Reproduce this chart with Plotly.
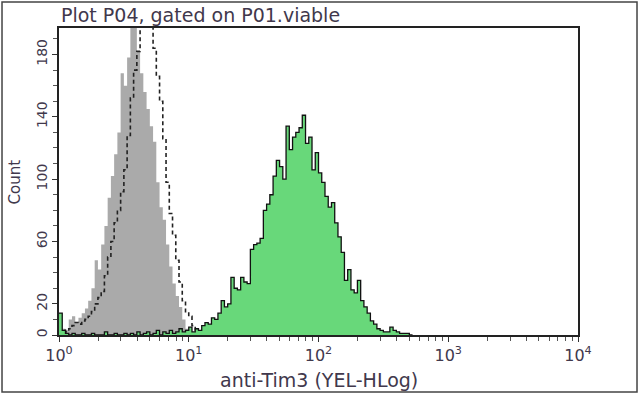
import numpy as np
import plotly.graph_objects as go

# ---- data (histogram counts per log10 bin) ----
BIN_WIDTH_LOG = 0.025          # bin width in decades
GRAY_START_LOG = 0.0
GRAY_COUNTS = [14, 4, 3, 10, 12, 8, 11, 14, 17, 22,
               30, 48, 42, 58, 70, 88, 102, 116, 130, 168,
               160, 178, 205, 200, 182, 168, 156, 145, 134, 124,
               98, 82, 74, 58, 44, 33, 25, 18, 10, 4, 1]

DASHED_START_LOG = 0.0
DASHED_COUNTS = [2, 3, 2, 4, 6, 8, 7, 9, 10, 12,
                 15, 20, 24, 28, 38, 50, 60, 72, 80, 92,
                 106, 128, 152, 170, 182, 198, 205, 205, 200, 184,
                 166, 150, 126, 98, 78, 64, 48, 34, 22, 15,
                 12, 6, 2, 0]

GREEN_START_LOG = 0.0
GREEN_COUNTS = [14, 3, 1, 0, 1, 0, 0, 1, 0, 0,
                1, 0, 0, 0, 2, 0, 0, 1, 0, 0,
                1, 0, 1, 0, 2, 0, 1, 2, 0, 1,
                3, 0, 2, 1, 3, 1, 2, 4, 2, 3,
                5, 2, 4, 3, 6, 8, 7, 11, 10, 14,
                22, 18, 20, 37, 30, 29, 37, 34, 33, 55,
                58, 59, 62, 80, 84, 90, 102, 112, 108, 100,
                134, 119, 127, 130, 133, 141, 123, 127, 106, 117,
                104, 98, 89, 82, 85, 72, 63, 53, 35, 42,
                29, 27, 35, 22, 18, 14, 9, 7, 4, 3,
                2, 2, 5, 3, 2, 1, 1, 1, 0]

X_TICK_VALUES = [1, 10, 100, 1000, 10000]
X_TICK_TEXT = ["10<sup>0</sup>", "10<sup>1</sup>", "10<sup>2</sup>", "10<sup>3</sup>", "10<sup>4</sup>"]
Y_TICK_VALUES = [0, 20, 60, 100, 140, 180]
Y_RANGE = [0, 197]

TITLE = "Plot P04, gated on P01.viable"
X_TITLE = "anti-Tim3 (YEL-HLog)"
Y_TITLE = "Count"


def step_xy(start_log, counts):
    n = len(counts)
    edges = 10 ** (start_log + BIN_WIDTH_LOG * np.arange(n + 1))
    xs = list(edges[:n]) + [edges[n], edges[n]]
    ys = list(counts) + [counts[-1], 0]
    return xs, ys


TEXT_COLOR = "#41384c"
FONT = "DejaVu Sans"

fig = go.Figure()

gx, gy = step_xy(GRAY_START_LOG, GRAY_COUNTS)
fig.add_trace(go.Scatter(x=gx, y=gy, mode="lines", line=dict(shape="hv", width=0, color="#aaaaaa"),
                         fill="tozeroy", fillcolor="#aaaaaa", hoverinfo="skip"))

dx, dy = step_xy(DASHED_START_LOG, DASHED_COUNTS)
fig.add_trace(go.Scatter(x=dx, y=dy, mode="lines",
                         line=dict(shape="hv", width=1.6, color="#222222", dash="4px,3px"),
                         hoverinfo="skip"))

ex, ey = step_xy(GREEN_START_LOG, GREEN_COUNTS)
fig.add_trace(go.Scatter(x=ex, y=ey, mode="lines", line=dict(shape="hv", width=1.3, color="#111111"),
                         fill="tozeroy", fillcolor="rgb(104,216,122)", hoverinfo="skip"))

fig.update_layout(
    width=640, height=395,
    margin=dict(l=59, r=62, t=28, b=60),
    paper_bgcolor="white", plot_bgcolor="white",
    showlegend=False,
    font=dict(family=FONT, size=14, color=TEXT_COLOR),
)

fig.update_xaxes(
    type="log", range=[0, 4],
    tickvals=X_TICK_VALUES, ticktext=X_TICK_TEXT,
    ticks="outside", ticklen=5, tickwidth=1.2, tickcolor="#333333",
    minor=dict(ticks="outside", ticklen=4, tickwidth=1, tickcolor="#555555", dtick="D1"),
    showline=True, linewidth=1.8, linecolor="#222222", mirror=True,
    showgrid=False, zeroline=False,
    tickfont=dict(family=FONT, size=16, color=TEXT_COLOR),
)

fig.update_yaxes(
    range=Y_RANGE,
    tickvals=Y_TICK_VALUES, tickangle=-90,
    ticks="outside", ticklen=5, tickwidth=1.2, tickcolor="#333333",
    minor=dict(ticks="outside", ticklen=4, tickwidth=1, tickcolor="#555555", dtick=10),
    showline=True, linewidth=1.8, linecolor="#222222", mirror=True,
    showgrid=False, zeroline=False,
    tickfont=dict(family=FONT, size=14, color=TEXT_COLOR),
)

fig.add_annotation(text=TITLE, xref="paper", yref="paper", x=0, y=1,
                   xanchor="left", yanchor="bottom", yshift=0, showarrow=False,
                   font=dict(family=FONT, size=19, color=TEXT_COLOR))
fig.add_annotation(text=X_TITLE, xref="paper", yref="paper", x=0.5, y=-0.1466,
                   xanchor="center", yanchor="middle", showarrow=False,
                   font=dict(family=FONT, size=19, color=TEXT_COLOR))
fig.add_annotation(text=Y_TITLE, xref="paper", yref="paper", x=-0.0848, y=0.5,
                   xanchor="center", yanchor="middle", textangle=-90, showarrow=False,
                   font=dict(family=FONT, size=15, color=TEXT_COLOR))

fig.add_shape(type="rect", xref="paper", yref="paper",
              x0=-0.1098, x1=1.1137, y0=-0.1857, y1=1.0847,
              line=dict(color="#444444", width=1.5), fillcolor="rgba(0,0,0,0)", layer="above")

fig.write_html("out.html", config={"displayModeBar": False},
               post_script="document.body.style.margin='0';document.body.style.padding='0';")
